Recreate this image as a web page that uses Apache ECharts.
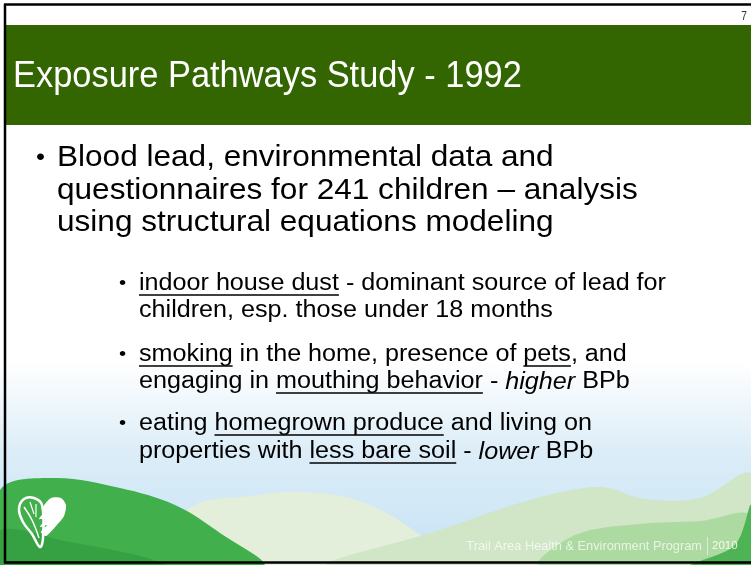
<!DOCTYPE html>
<html>
<head>
<meta charset="utf-8">
<script src="https://cdn.jsdelivr.net/npm/echarts@6/dist/echarts.min.js"></script>
<style>
  html, body { margin: 0; padding: 0; background: #fff; }
  #main { width: 751px; height: 565px; }
</style>
</head>
<body>
<div id="main"></div>
<script>
// slide texts
const titleText = 'Exposure Pathways Study - 1992';
const pageNo = '7';
const mainLines = [
  'Blood lead, environmental data and',
  'questionnaires for 241 children \u2013 analysis',
  'using structural equations modeling'
];
// segments: [text, style]  u = underline, i = italic
const subBullets = [
  [
    [['indoor house dust', 'u'], [' - dominant source of lead for', '']],
    [['children, esp. those under 18 months', '']]
  ],
  [
    [['smoking', 'u'], [' in the home, presence of ', ''], ['pets', 'u'], [', and', '']],
    [['engaging in ', ''], ['mouthing behavior', 'u'], [' - ', ''], ['higher', 'i'], [' BPb', '']]
  ],
  [
    [['eating ', ''], ['homegrown produce', 'u'], [' and living on', '']],
    [['properties with ', ''], ['less bare soil', 'u'], [' - ', ''], ['lower', 'i'], [' BPb', '']]
  ]
];
const footerText = 'Trail Area Health & Environment Program';
const footerYear = '2010';

const FONT = '"Liberation Sans", Arial, sans-serif';
const STRETCH = 1.07; // slide text runs a little wider than plain Arial

const ctx = document.createElement('canvas').getContext('2d');
function measure(txt, size, italic) {
  ctx.font = (italic ? 'italic ' : '') + size + 'px ' + FONT;
  return ctx.measureText(txt).width;
}

const chart = echarts.init(document.getElementById('main'));
const els = [];

// sky gradient
els.push({
  type: 'rect', shape: { x: 0, y: 0, width: 751, height: 565 },
  style: { fill: new echarts.graphic.LinearGradient(0, 0, 0, 1, [
    { offset: 0, color: '#ffffff' },
    { offset: 0.64, color: '#ffffff' },
    { offset: 0.8, color: '#dcedf8' },
    { offset: 1, color: '#c6e3f4' }
  ]) }, z: 0
});

// hills
function hill(points, color, z) {
  els.push({ type: 'polygon', shape: { points: points, smooth: 0.35 }, style: { fill: color }, z: z });
}
hill([[160, 566], [190, 508], [250, 496], [305, 492], [365, 503], [420, 535], [450, 566]], '#e3efda', 1);
hill([[330, 566], [440, 530], [530, 500], [600, 487], [645, 499], [700, 498], [751, 474], [751, 566]], '#d0e6c6', 2);
hill([[540, 566], [575, 535], [640, 524], [700, 521], [751, 515], [751, 566]], '#addaa0', 3);
hill([[690, 566], [735, 545], [751, 505], [751, 566]], '#4db354', 4);
hill([[0, 490], [55, 478], [120, 488], [175, 505], [220, 533], [262, 566], [0, 566]], '#41af4b', 5);
hill([[0, 530], [70, 542], [140, 556], [165, 566], [0, 566]], '#36a143', 6);

// logo: leaf heart + hand
els.push({
  type: 'polygon', z: 8,
  shape: { points: [[42, 505], [34, 498], [24, 499], [19, 509], [23, 522], [32, 534], [40, 547], [43, 538]], smooth: 0.4 },
  style: { fill: 'none', stroke: '#fff', lineWidth: 2.5 }
});
els.push({ type: 'polyline', z: 8, shape: { points: [[24, 507], [32, 520], [39, 538]], smooth: 0.4 }, style: { stroke: '#fff', lineWidth: 1.5, fill: 'none' } });
els.push({ type: 'polyline', z: 8, shape: { points: [[30, 502], [34, 514]] }, style: { stroke: '#fff', lineWidth: 1.2 } });
els.push({ type: 'polyline', z: 8, shape: { points: [[36, 504], [36, 517]] }, style: { stroke: '#fff', lineWidth: 1.2 } });
els.push({
  type: 'polygon', z: 8,
  shape: { points: [[43, 507], [51, 498], [61, 498], [66, 505], [64, 516], [56, 526], [46, 536], [41, 532], [47, 525], [40, 527], [45, 519], [39, 519], [44, 512]], smooth: 0.25 },
  style: { fill: '#fff' }
});

// frame
els.push({ type: 'line', z: 20, shape: { x1: 4, y1: 4.5, x2: 751, y2: 4.5 }, style: { stroke: '#000', lineWidth: 2.5 } });
els.push({ type: 'line', z: 20, shape: { x1: 5, y1: 4, x2: 5, y2: 563 }, style: { stroke: '#000', lineWidth: 2.5 } });
els.push({ type: 'line', z: 20, shape: { x1: 4, y1: 562.5, x2: 751, y2: 562.5 }, style: { stroke: '#000', lineWidth: 2.5 } });

// header band, title in a narrow face
els.push({ type: 'rect', z: 9, shape: { x: 6, y: 25, width: 745, height: 100 }, style: { fill: '#336600' } });
els.push({
  type: 'text', z: 10, x: 13, y: 77, scaleX: 0.93,
  style: { text: titleText, fill: '#fff', font: '37px ' + FONT, verticalAlign: 'middle' }
});
els.push({
  type: 'text', z: 10, x: 747, y: 17, scaleX: 0.85,
  style: { text: pageNo, fill: '#333', font: '12px ' + FONT, align: 'right', verticalAlign: 'middle' }
});

// main bullet
const MS = 29.5;
const mainY = [158, 190.5, 223];
els.push({ type: 'text', z: 10, x: 36, y: mainY[0], scaleX: STRETCH, style: { text: '\u2022', fill: '#000', font: '24px ' + FONT, verticalAlign: 'middle' } });
mainLines.forEach(function (t, i) {
  els.push({ type: 'text', z: 10, x: 57, y: mainY[i], scaleX: STRETCH, style: { text: t, fill: '#000', font: MS + 'px ' + FONT, verticalAlign: 'middle' } });
});

// sub bullets
const SS = 23.5;
const subY = [[284, 311], [355, 382], [424, 452]];
subBullets.forEach(function (b, bi) {
  els.push({ type: 'text', z: 10, x: 119, y: subY[bi][0], scaleX: STRETCH, style: { text: '\u2022', fill: '#000', font: '19px ' + FONT, verticalAlign: 'middle' } });
  b.forEach(function (line, li) {
    let x = 139;
    const y = subY[bi][li];
    line.forEach(function (seg) {
      const it = seg[1] === 'i';
      const w = measure(seg[0], SS, it) * STRETCH;
      els.push({ type: 'text', z: 10, x: x, y: y, scaleX: STRETCH, style: { text: seg[0], fill: '#000', font: (it ? 'italic ' : '') + SS + 'px ' + FONT, verticalAlign: 'middle' } });
      if (seg[1] === 'u') {
        els.push({ type: 'line', z: 10, shape: { x1: x, y1: y + 11, x2: x + w, y2: y + 11 }, style: { stroke: '#000', lineWidth: 1.5 } });
      }
      x += w;
    });
  });
});

// footer
els.push({ type: 'text', z: 10, x: 702, y: 546, style: { text: footerText, fill: 'rgba(255,255,255,0.72)', font: '12.8px ' + FONT, align: 'right', verticalAlign: 'middle' } });
els.push({ type: 'line', z: 10, shape: { x1: 707.5, y1: 537, x2: 707.5, y2: 555 }, style: { stroke: 'rgba(255,255,255,0.55)', lineWidth: 1 } });
els.push({ type: 'text', z: 10, x: 712, y: 546, style: { text: footerYear, fill: 'rgba(255,255,255,0.85)', font: '11.5px ' + FONT, verticalAlign: 'middle' } });

chart.setOption({ animation: false, graphic: { elements: els } });
</script>
</body>
</html>
